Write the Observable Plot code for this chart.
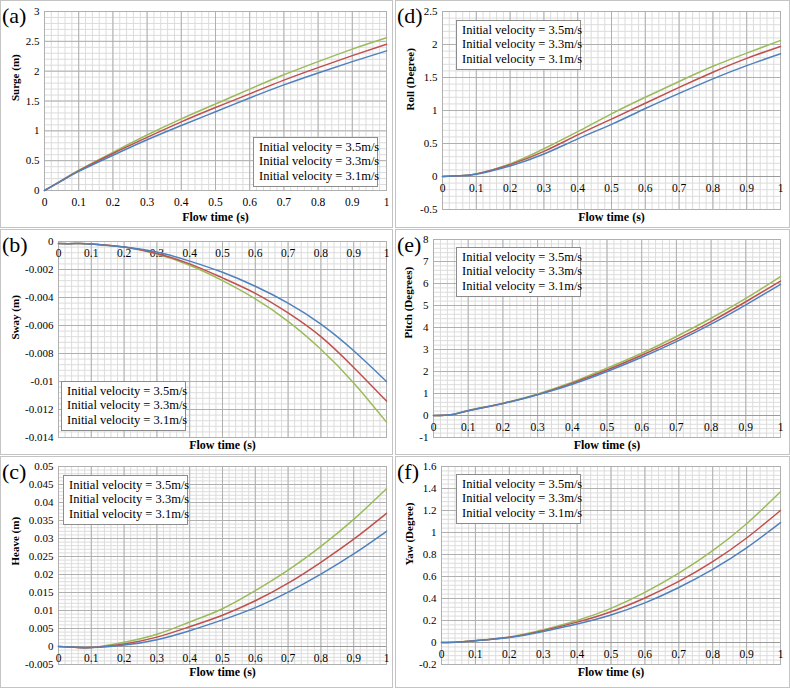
<!DOCTYPE html>
<html>
<head>
<meta charset="utf-8">
<script src="https://cdn.jsdelivr.net/npm/d3@7"></script>
<script src="https://cdn.jsdelivr.net/npm/@observablehq/plot@0.6"></script>
<style>
  html, body { margin: 0; padding: 0; background: #fff; }
  #root { position: relative; width: 790px; height: 688px; background: #fff; font-family: "Liberation Serif", "Times New Roman", serif; }
  #root svg, #root svg text { font-family: "Liberation Serif", "Times New Roman", serif !important; }
  .cell { position: absolute; box-sizing: border-box; border: 1px solid #c4c4c4; background: #fff; overflow: hidden; }
  .cell svg { display: block; }
  .letter { position: absolute; font-family: "Liberation Serif", serif; font-size: 22px; line-height: 1; letter-spacing: 0; color: #000; }
  .legend { position: absolute; box-sizing: border-box; border: 1px solid #8c8c8c; background: #fff; font-family: "Liberation Serif", "Times New Roman", serif !important; font-size: 12.5px; color: #000; padding: 2px 0 0 4px; }
  .legend .row { display: flex; align-items: center; height: 14.5px; white-space: nowrap; font-family: "Liberation Serif", serif; }
  .legend .sw { width: 12px; height: 0; border-top: 1.6px solid; margin-right: 1px; }
</style>
</head>
<body>
<div id="root"></div>
<script>
// ---------- data ----------
const seriesNames = ["Initial velocity = 3.5m/s", "Initial velocity = 3.3m/s", "Initial velocity = 3.1m/s"];
const seriesColors = ["#9bbb59", "#c0504d", "#4f81bd"];
const flowTime = [0, 0.05, 0.1, 0.2, 0.3, 0.4, 0.5, 0.6, 0.7, 0.8, 0.9, 1.0];
const xTicks = [0, 0.1, 0.2, 0.3, 0.4, 0.5, 0.6, 0.7, 0.8, 0.9, 1];

// (a) Surge (m)
const surge35 = [0, 0.17, 0.34, 0.64, 0.93, 1.20, 1.45, 1.70, 1.94, 2.16, 2.37, 2.56];
const surge33 = [0, 0.165, 0.33, 0.62, 0.89, 1.15, 1.39, 1.62, 1.85, 2.06, 2.26, 2.45];
const surge31 = [0, 0.16, 0.32, 0.59, 0.85, 1.09, 1.32, 1.55, 1.77, 1.97, 2.16, 2.34];
const surgeTicks = [0, 0.5, 1, 1.5, 2, 2.5, 3];

// (b) Sway (m)
const sway35 = [-0.00015, -0.00015, -0.00017, -0.0004, -0.0009, -0.0017, -0.0028, -0.0041, -0.0057, -0.0077, -0.0101, -0.0129];
const sway33 = [-0.00015, -0.00015, -0.00017, -0.0004, -0.00085, -0.0016, -0.0026, -0.0037, -0.0051, -0.0068, -0.0090, -0.0114];
const sway31 = [-0.00015, -0.00015, -0.00017, -0.0004, -0.00075, -0.0014, -0.0022, -0.0032, -0.0044, -0.0059, -0.0078, -0.0100];
const swayTicks = [0, -0.002, -0.004, -0.006, -0.008, -0.01, -0.012, -0.014];

// (c) Heave (m)
const heave35 = [0, -0.0002, -0.0003, 0.0012, 0.0034, 0.0068, 0.0105, 0.0155, 0.0212, 0.0278, 0.0353, 0.0438];
const heave33 = [0, -0.0002, -0.0003, 0.0007, 0.0026, 0.0055, 0.0087, 0.0127, 0.0176, 0.0234, 0.0298, 0.037];
const heave31 = [0, -0.0002, -0.0003, 0.0004, 0.0019, 0.0044, 0.0074, 0.0108, 0.0151, 0.0201, 0.0257, 0.032];
const heaveTicks = [-0.005, 0, 0.005, 0.01, 0.015, 0.02, 0.025, 0.03, 0.035, 0.04, 0.045, 0.05];

// (d) Roll (Degree)
const roll35 = [0, 0.01, 0.04, 0.19, 0.42, 0.68, 0.95, 1.20, 1.44, 1.67, 1.87, 2.06];
const roll33 = [0, 0.01, 0.04, 0.18, 0.38, 0.63, 0.87, 1.11, 1.35, 1.58, 1.79, 1.97];
const roll31 = [0, 0.01, 0.035, 0.16, 0.34, 0.57, 0.79, 1.03, 1.26, 1.48, 1.68, 1.86];
const rollTicks = [-0.5, 0, 0.5, 1, 1.5, 2, 2.5];

// (e) Pitch (Degrees)
const pitch35 = [0, 0.03, 0.23, 0.56, 0.98, 1.51, 2.15, 2.83, 3.59, 4.42, 5.32, 6.31];
const pitch33 = [0, 0.03, 0.22, 0.55, 0.95, 1.47, 2.07, 2.74, 3.46, 4.27, 5.17, 6.11];
const pitch31 = [0, 0.03, 0.22, 0.54, 0.94, 1.42, 2.00, 2.65, 3.36, 4.15, 5.03, 5.96];
const pitchTicks = [-1, 0, 1, 2, 3, 4, 5, 6, 7, 8];

// (f) Yaw (Degree)
const yaw35 = [0, 0.005, 0.018, 0.05, 0.115, 0.20, 0.31, 0.455, 0.63, 0.835, 1.08, 1.37];
const yaw33 = [0, 0.005, 0.017, 0.048, 0.108, 0.185, 0.28, 0.405, 0.555, 0.735, 0.95, 1.20];
const yaw31 = [0, 0.005, 0.016, 0.045, 0.10, 0.168, 0.25, 0.36, 0.50, 0.665, 0.86, 1.09];
const yawTicks = [-0.2, 0, 0.2, 0.4, 0.6, 0.8, 1, 1.2, 1.4, 1.6];

// ---------- layout ----------
const panels = [
  {letter: "(a)", label: "Surge (m)", s: [surge35, surge33, surge31], ticks: surgeTicks, minor: 0.1,
   cell: [0, 0, 393, 228], m: [10, 6, 37, 43], titleDy: 27, yLabelX: 14, legend: [253, 137]},
  {letter: "(d)", label: "Roll (Degree)", s: [roll35, roll33, roll31], ticks: rollTicks, minor: 0.1,
   cell: [395, 0, 395, 228], m: [10, 9, 18, 46], titleDy: 8, yLabelX: 14, legend: [456, 20]},
  {letter: "(b)", label: "Sway (m)", s: [sway35, sway33, sway31], ticks: swayTicks, minor: 0.0004,
   cell: [0, 229, 393, 226], m: [11, 6, 17, 57], titleDy: 8, yLabelX: 14, legend: [61, 381]},
  {letter: "(e)", label: "Pitch (Degrees)", s: [pitch35, pitch33, pitch31], ticks: pitchTicks, minor: 0.2,
   cell: [395, 229, 395, 226], m: [9, 9, 17, 37], titleDy: 8, yLabelX: 12, legend: [456, 247]},
  {letter: "(c)", label: "Heave (m)", s: [heave35, heave33, heave31], ticks: heaveTicks, minor: 0.001,
   cell: [0, 456, 393, 232], m: [9, 6, 23, 57], titleDy: 8, yLabelX: 14, legend: [63, 475]},
  {letter: "(f)", label: "Yaw (Degree)", s: [yaw35, yaw33, yaw31], ticks: yawTicks, minor: 0.04,
   cell: [395, 456, 395, 232], m: [9, 9, 23, 45], titleDy: 8, yLabelX: 13, legend: [456, 474]}
];

const fmt = d => String(+(+d).toFixed(6));
const root = document.getElementById("root");

for (const p of panels) {
  const [cx, cy, cw, ch] = p.cell;
  const [mt, mr, mb, ml] = p.m;
  const w = cw - 2, h = ch - 2;
  const rows = [];
  p.s.forEach((arr, i) => arr.forEach((v, j) => rows.push({t: flowTime[j], v, series: seriesNames[i]})));
  const y0 = d3.min(p.ticks), y1 = d3.max(p.ticks);
  const minorX = d3.range(0, 1.0001, 0.02);
  const minorY = d3.range(Math.round((y1 - y0) / p.minor) + 1).map(k => y0 + k * p.minor);

  const chart = Plot.plot({
    width: w, height: h,
    marginTop: mt, marginRight: mr, marginBottom: mb, marginLeft: ml,
    style: {fontFamily: "'Liberation Serif', serif", fontSize: "11px", color: "#000", background: "#fff", overflow: "visible"},
    x: {domain: [0, 1], axis: null},
    y: {domain: [y0, y1], axis: null},
    color: {domain: seriesNames, range: seriesColors},
    marks: [
      Plot.ruleX(minorX, {stroke: "#dcdcdc", strokeWidth: 1}),
      Plot.ruleY(minorY, {stroke: "#dcdcdc", strokeWidth: 1}),
      Plot.ruleX(xTicks, {stroke: "#b0b0b0", strokeWidth: 1}),
      Plot.ruleY(p.ticks, {stroke: "#b0b0b0", strokeWidth: 1}),
      Plot.ruleY([0], {stroke: "#9a9a9a", strokeWidth: 1}),
      Plot.frame({stroke: "#b0b0b0"}),
      Plot.axisY(p.ticks, {tickSize: 0, tickPadding: 5, tickFormat: fmt, fill: "#000", label: null}),
      Plot.text(xTicks, {x: d => d, y: 0, dy: 12, text: fmt, fill: "#000", fontSize: 11.5}),
      Plot.text([p.label], {frameAnchor: "left", dx: p.yLabelX - ml, rotate: -90, text: d => d, fontWeight: "bold", fontSize: 11, fill: "#000"}),
      Plot.text(["Flow time (s)"], {frameAnchor: "bottom", dy: p.titleDy, lineAnchor: "middle", text: d => d, fontWeight: "bold", fontSize: 12, fill: "#000"}),
      Plot.line(rows, {x: "t", y: "v", z: "series", stroke: "series", curve: "natural", strokeWidth: 1.5})
    ]
  });

  const cell = document.createElement("div");
  cell.className = "cell";
  Object.assign(cell.style, {left: cx + "px", top: cy + "px", width: cw + "px", height: ch + "px"});
  cell.appendChild(chart);
  root.appendChild(cell);

  const letter = document.createElement("div");
  letter.className = "letter";
  letter.textContent = p.letter;
  Object.assign(letter.style, {left: (cx + 2) + "px", top: (cy + 5) + "px"});
  root.appendChild(letter);

  const lg = document.createElement("div");
  lg.className = "legend";
  Object.assign(lg.style, {left: p.legend[0] + "px", top: p.legend[1] + "px", width: "125px", height: "50px"});
  seriesNames.forEach((name, i) => {
    const r = document.createElement("div");
    r.className = "row";
    const sw = document.createElement("span");
    sw.className = "sw";
    sw.style.borderTopColor = seriesColors[i];
    const tx = document.createElement("span");
    tx.textContent = name;
    r.appendChild(sw); r.appendChild(tx);
    lg.appendChild(r);
  });
  root.appendChild(lg);
}
</script>
</body>
</html>
